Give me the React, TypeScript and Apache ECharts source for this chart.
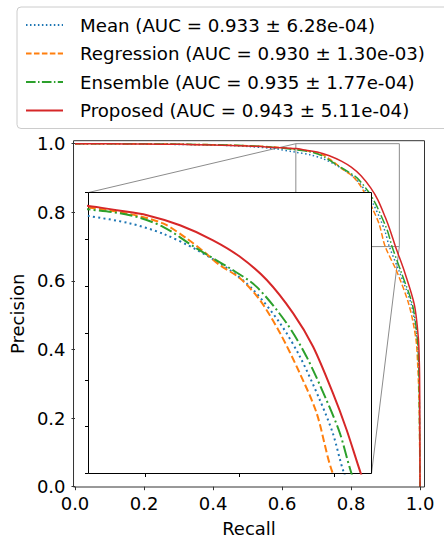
import React, { useEffect, useRef } from "react";
import * as echarts from "echarts";

// ---- data ----
const seriesNames = [
  "Mean (AUC = 0.933 ± 6.28e-04)",
  "Regression (AUC = 0.930 ± 1.30e-03)",
  "Ensemble (AUC = 0.935 ± 1.77e-04)",
  "Proposed (AUC = 0.943 ± 5.11e-04)",
];
const seriesColors = ["#1f77b4", "#ff7f0e", "#2ca02c", "#d62728"];

const meanRecall = [0, 0.2, 0.4, 0.5, 0.58, 0.64, 0.684, 0.719, 0.755, 0.79, 0.8147, 0.843, 0.864, 0.885, 0.899, 0.911, 0.94, 0.975, 0.9905, 0.995, 0.998, 1.0];
const meanPrecision = [1.0, 0.999, 0.996, 0.992, 0.985, 0.975, 0.967, 0.956, 0.9386, 0.917, 0.896, 0.8605, 0.825, 0.779, 0.743, 0.7, 0.6265, 0.53, 0.434, 0.36, 0.25, 0.0];

const regRecall = [0, 0.2, 0.4, 0.5, 0.58, 0.64, 0.684, 0.719, 0.744, 0.762, 0.779, 0.8006, 0.8218, 0.843, 0.864, 0.8818, 0.899, 0.933, 0.968, 0.9876, 0.993, 0.997, 1.0];
const regPrecision = [1.0, 0.9995, 0.997, 0.994, 0.99, 0.984, 0.977, 0.967, 0.951, 0.937, 0.9226, 0.9084, 0.885, 0.85, 0.807, 0.7646, 0.7, 0.6265, 0.53, 0.434, 0.36, 0.25, 0.0];

const ensRecall = [0, 0.2, 0.4, 0.5, 0.58, 0.64, 0.684, 0.719, 0.755, 0.79, 0.818, 0.85, 0.871, 0.892, 0.9065, 0.9188, 0.945, 0.978, 0.992, 0.996, 0.998, 1.0];
const ensPrecision = [1.0, 0.9995, 0.997, 0.994, 0.989, 0.982, 0.9758, 0.9634, 0.94, 0.919, 0.8995, 0.8605, 0.825, 0.779, 0.743, 0.7, 0.6265, 0.53, 0.434, 0.36, 0.25, 0.0];

const propRecall = [0, 0.1, 0.2, 0.3, 0.4, 0.5, 0.58, 0.64, 0.67, 0.702, 0.737, 0.772, 0.8006, 0.829, 0.857, 0.878, 0.899, 0.9135, 0.9287, 0.955, 0.9836, 0.995, 0.998, 0.999, 1.0];
const propPrecision = [1.0, 0.9995, 0.999, 0.998, 0.996, 0.993, 0.989, 0.9857, 0.981, 0.9758, 0.965, 0.949, 0.9314, 0.9066, 0.871, 0.8356, 0.786, 0.747, 0.7, 0.6265, 0.53, 0.434, 0.36, 0.28, 0.0];

const recallSets = [meanRecall, regRecall, ensRecall, propRecall];
const precisionSets = [meanPrecision, regPrecision, ensPrecision, propPrecision];

const mainTicks = [0, 0.2, 0.4, 0.6, 0.8, 1.0];
const mainXLimits = [-0.0043, 1.0129];
const mainYLimits = [-0.0009, 1.0087];
const zoomX = [0.64, 0.94];
const zoomY = [0.7, 1.0];
const insetXTicks = [0.7, 0.8, 0.9];
const insetYTicks = [0.7, 0.75, 0.8, 0.85, 0.9, 0.95, 1.0];

// matplotlib dash patterns (per unit line width)
const dashUnits: (number[] | null)[] = [[1, 1.65], [3.7, 1.6], [6.4, 1.6, 1, 1.6], null];

const FONT = "DejaVu Sans";

function dash(i: number, lw: number): any {
  const d = dashUnits[i];
  return d ? d.map((v) => v * lw) : "solid";
}

export default function App() {
  const ref = useRef<HTMLDivElement>(null);
  useEffect(() => {
    if (!ref.current) return;
    const chart = echarts.init(ref.current, null, { renderer: "svg" });
    const pairs = recallSets.map((xs, i) => xs.map((x, j) => [x, precisionSets[i][j]]));

    const mainSeries = pairs.map((d, i) => ({
      type: "line",
      name: seriesNames[i],
      xAxisIndex: 0,
      yAxisIndex: 0,
      data: d,
      showSymbol: false,
      symbol: "none",
      smooth: 0.3,
      clip: false,
      z: 2,
      color: seriesColors[i],
      lineStyle: { color: seriesColors[i], width: 1.5, type: dash(i, 1.5) },
    }));
    const insetSeries = pairs.map((d, i) => ({
      type: "line",
      name: seriesNames[i],
      xAxisIndex: 1,
      yAxisIndex: 1,
      data: d,
      showSymbol: false,
      symbol: "none",
      smooth: 0.3,
      clip: true,
      z: 12,
      color: seriesColors[i],
      lineStyle: { color: seriesColors[i], width: 2, type: dash(i, 2) },
    }));

    const tickLabel = { fontFamily: FONT, fontSize: 18, color: "#000" };

    chart.setOption({
      animation: false,
      backgroundColor: "#fff",
      legend: {
        orient: "vertical",
        left: 17,
        top: 7,
        data: seriesNames,
        selectedMode: false,
        itemWidth: 37,
        itemHeight: 14,
        itemGap: 8.5,
        padding: [8, 30, 8, 8],
        backgroundColor: "rgba(255,255,255,0.8)",
        borderColor: "#cccccc",
        borderWidth: 1,
        borderRadius: 4,
        itemStyle: { opacity: 0 },
        textStyle: { fontFamily: FONT, fontSize: 18.2, color: "#000", lineHeight: 20, padding: [0, 0, 0, 12] },
      },
      grid: [
        { left: 71, top: 140.7, width: 353.5, height: 350.3, show: false },
        {
          left: 88.5, top: 192.5, width: 283, height: 281,
          show: true, backgroundColor: "#fff", borderColor: "#000", borderWidth: 1, z: 10,
        },
      ],
      xAxis: [
        {
          type: "value", gridIndex: 0, min: mainXLimits[0], max: mainXLimits[1],
          axisLine: { show: false },
          splitLine: { show: false },
          axisTick: { show: true, customValues: mainTicks, length: 3.5, lineStyle: { color: "#333", width: 1 } },
          axisLabel: { ...tickLabel, customValues: mainTicks, margin: 7, formatter: (v: number) => v.toFixed(1) },
          name: "Recall", nameLocation: "middle", nameGap: 32,
          nameTextStyle: { fontFamily: FONT, fontSize: 18, color: "#000" },
        },
        {
          type: "value", gridIndex: 1, min: zoomX[0], max: zoomX[1], z: 11,
          axisLine: { show: false }, splitLine: { show: false },
          axisTick: { show: true, customValues: insetXTicks, length: 3.5, lineStyle: { color: "#000", width: 1 } },
          axisLabel: { show: false },
        },
      ],
      yAxis: [
        {
          type: "value", gridIndex: 0, min: mainYLimits[0], max: mainYLimits[1],
          axisLine: { show: false }, splitLine: { show: false },
          axisTick: { show: true, customValues: mainTicks, length: 3.5, lineStyle: { color: "#333", width: 1 } },
          axisLabel: { ...tickLabel, customValues: mainTicks, margin: 8, formatter: (v: number) => v.toFixed(1) },
          name: "Precision", nameLocation: "middle", nameGap: 42,
          nameTextStyle: { fontFamily: FONT, fontSize: 18, color: "#000" },
        },
        {
          type: "value", gridIndex: 1, min: zoomY[0], max: zoomY[1], z: 11,
          axisLine: { show: false }, splitLine: { show: false },
          axisTick: { show: true, customValues: insetYTicks, length: 3.5, lineStyle: { color: "#000", width: 1 } },
          axisLabel: { show: false },
        },
      ],
      series: [...mainSeries, ...insetSeries],
    });

    // annotation: main frame, zoom rectangle and connectors computed through the scales
    const px = (g: number, v: number[]) => chart.convertToPixel({ gridIndex: g } as any, v) as number[];
    const f0 = px(0, [mainXLimits[0], mainYLimits[1]]);
    const f1 = px(0, [mainXLimits[1], mainYLimits[0]]);
    const r0 = px(0, [zoomX[0], zoomY[1]]);
    const r1 = px(0, [zoomX[1], zoomY[0]]);
    const i0 = px(1, [zoomX[0], zoomY[1]]);
    const i1 = px(1, [zoomX[1], zoomY[0]]);
    const gray = "#8c8c8c";
    chart.setOption({
      graphic: [
        {
          type: "rect", z: 3, silent: true,
          shape: { x: f0[0], y: f0[1], width: f1[0] - f0[0], height: f1[1] - f0[1] },
          style: { fill: "none", stroke: "#333", lineWidth: 1 },
        },
        {
          type: "rect", z: 1, silent: true,
          shape: { x: r0[0], y: r0[1], width: r1[0] - r0[0], height: r1[1] - r0[1] },
          style: { fill: "none", stroke: gray, lineWidth: 1 },
        },
        {
          type: "line", z: 1, silent: true,
          shape: { x1: i0[0], y1: i0[1], x2: r0[0], y2: r0[1] },
          style: { stroke: gray, lineWidth: 1 },
        },
        {
          type: "line", z: 1, silent: true,
          shape: { x1: i1[0], y1: i1[1], x2: r1[0], y2: r1[1] },
          style: { stroke: gray, lineWidth: 1 },
        },
      ],
    });

    return () => chart.dispose();
  }, []);
  return <div ref={ref} style={{ width: 444, height: 542, position: "absolute", left: 0, top: 0 }} />;
}
